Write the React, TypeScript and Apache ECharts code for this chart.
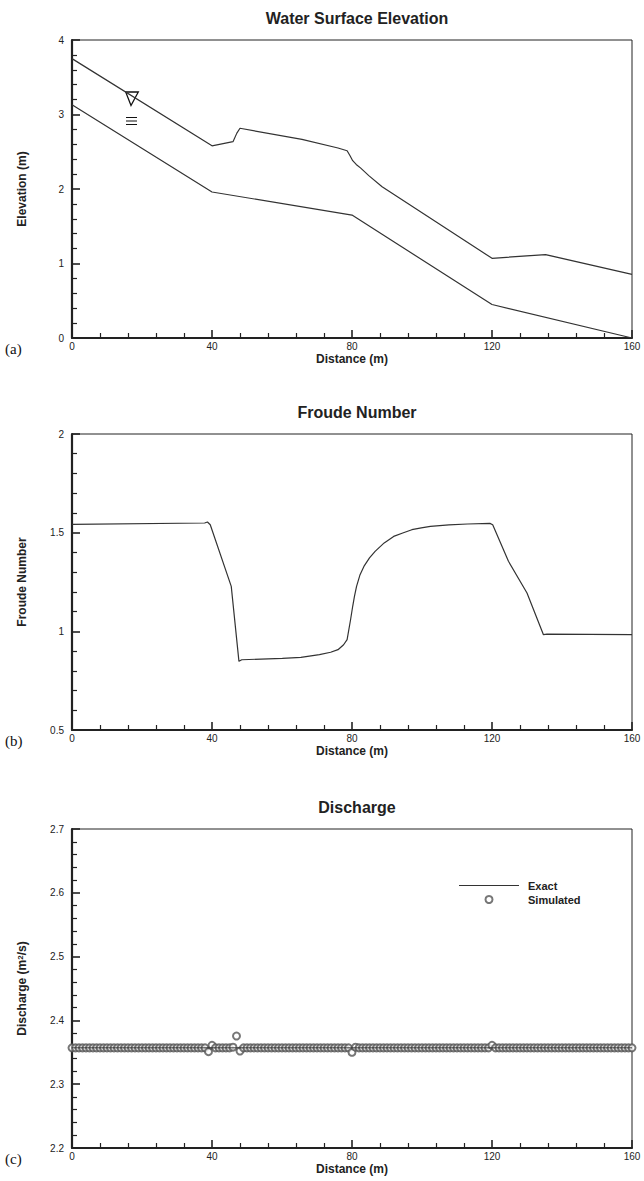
import React, { useEffect, useRef } from "react";
import * as echarts from "echarts";

const FONT = "'Liberation Sans', Arial, Helvetica, sans-serif";
const INK = "#222";

// ---- data ----
const distanceTicks = [0, 40, 80, 120, 160];

const bedElevation: [number, number][] = [
  [0, 3.13], [40, 1.96], [80, 1.65], [120, 0.45], [160, 0.0],
];

const waterSurface: [number, number][] = [
  [0, 3.75], [40, 2.58], [46, 2.635], [47.1, 2.75], [48, 2.815], [65.7, 2.667],
  [76, 2.55], [78.6, 2.514], [79.4, 2.45], [80.2, 2.38], [81.2, 2.33], [82.5, 2.28],
  [84.8, 2.18], [88.6, 2.03], [120, 1.07], [135.3, 1.12], [160, 0.855],
];

const froudeNumber: [number, number][] = [
  [0, 1.542], [37.9, 1.549], [38.7, 1.554], [39.5, 1.54], [45.5, 1.228],
  [47.7, 0.848], [48.5, 0.856], [60.1, 0.863], [65.4, 0.868], [70.7, 0.882],
  [73.9, 0.894], [76, 0.907], [77.6, 0.932], [78.6, 0.958], [79.6, 1.06],
  [80.2, 1.127], [80.7, 1.177], [81.3, 1.228], [82.3, 1.287], [83.4, 1.329],
  [85, 1.372], [86.6, 1.405], [89.2, 1.448], [91.9, 1.481], [94.5, 1.498],
  [97.1, 1.515], [99.8, 1.524], [102.4, 1.532], [107.7, 1.539], [113, 1.544],
  [119.4, 1.547], [120.2, 1.54], [124.7, 1.355], [130, 1.194], [134.7, 0.983],
  [135.7, 0.986], [160, 0.983],
];

const exactDischarge: [number, number][] = [[0, 2.357], [160, 2.357]];

// simulated discharge at every node (grid spacing below), from x = 0 to 160 m
const simulatedSpacing = 1;
const simulatedDischarge = [
  2.357, 2.357, 2.357, 2.357, 2.357, 2.357, 2.357, 2.357, 2.357, 2.357,
  2.357, 2.357, 2.357, 2.357, 2.357, 2.357, 2.357, 2.357, 2.357, 2.357,
  2.357, 2.357, 2.357, 2.357, 2.357, 2.357, 2.357, 2.357, 2.357, 2.357,
  2.357, 2.357, 2.357, 2.357, 2.357, 2.357, 2.357, 2.357, 2.357, 2.351,
  2.361, 2.357, 2.357, 2.357, 2.357, 2.357, 2.358, 2.3755, 2.352, 2.357,
  2.357, 2.357, 2.357, 2.357, 2.357, 2.357, 2.357, 2.357, 2.357, 2.357,
  2.357, 2.357, 2.357, 2.357, 2.357, 2.357, 2.357, 2.357, 2.357, 2.357,
  2.357, 2.357, 2.357, 2.357, 2.357, 2.357, 2.357, 2.357, 2.357, 2.357,
  2.35, 2.358, 2.357, 2.357, 2.357, 2.357, 2.357, 2.357, 2.357, 2.357,
  2.357, 2.357, 2.357, 2.357, 2.357, 2.357, 2.357, 2.357, 2.357, 2.357,
  2.357, 2.357, 2.357, 2.357, 2.357, 2.357, 2.357, 2.357, 2.357, 2.357,
  2.357, 2.357, 2.357, 2.357, 2.357, 2.357, 2.357, 2.357, 2.357, 2.357,
  2.361, 2.357, 2.357, 2.357, 2.357, 2.357, 2.357, 2.357, 2.357, 2.357,
  2.357, 2.357, 2.357, 2.357, 2.357, 2.357, 2.357, 2.357, 2.357, 2.357,
  2.357, 2.357, 2.357, 2.357, 2.357, 2.357, 2.357, 2.357, 2.357, 2.357,
  2.357, 2.357, 2.357, 2.357, 2.357, 2.357, 2.357, 2.357, 2.357, 2.357,
  2.357,
];

const panelTitles = ["Water Surface Elevation", "Froude Number", "Discharge"];
const panelLetters = ["(a)", "(b)", "(c)"];
const yAxisNames = ["Elevation (m)", "Froude Number", "Discharge (m{sup|2}/s)"];
const yRanges = [
  { min: 0, max: 4, interval: 1 },
  { min: 0.5, max: 2, interval: 0.5 },
  { min: 2.2, max: 2.7, interval: 0.1 },
];
const legendNames = ["Exact", "Simulated"];

// ---- layout ----
const grids = [
  { left: 72, top: 40, width: 560, height: 298 },
  { left: 72, top: 434, width: 560, height: 296 },
  { left: 72, top: 829, width: 560, height: 319 },
];

export default function App() {
  const ref = useRef<HTMLDivElement>(null);

  useEffect(() => {
    document.body.style.margin = "0";
    if (!ref.current) return;
    const chart = echarts.init(ref.current, undefined, { renderer: "svg" });

    const nameStyle = {
      fontFamily: FONT,
      fontWeight: "bold" as const,
      fontSize: 12,
      color: INK,
      rich: {
        sup: {
          fontFamily: FONT,
          fontWeight: "bold" as const,
          fontSize: 8,
          color: INK,
          verticalAlign: "top" as const,
        },
      },
    };

    const mkAxisLine = () => ({ show: true, onZero: false, lineStyle: { color: INK, width: 2.2 } });
    const mkTick = () => ({ show: true, inside: true, length: 8, lineStyle: { color: INK, width: 1.6 } });
    const mkMinor = () => ({ show: true, splitNumber: 5, length: 5, lineStyle: { color: INK, width: 1.2 } });

    const xAxes = grids.map((_, i) => ({
      type: "value",
      gridIndex: i,
      position: "bottom",
      min: distanceTicks[0],
      max: distanceTicks[distanceTicks.length - 1],
      interval: distanceTicks[1] - distanceTicks[0],
      name: "Distance (m)",
      nameLocation: "middle",
      nameGap: 15,
      nameTextStyle: nameStyle,
      axisLine: mkAxisLine(),
      axisTick: mkTick(),
      minorTick: mkMinor(),
      splitLine: { show: false },
      minorSplitLine: { show: false },
      axisLabel: { color: INK, fontSize: 10, fontFamily: FONT, margin: 3 },
    }));

    const yAxes = grids.map((_, i) => ({
      type: "value",
      gridIndex: i,
      position: "left",
      min: yRanges[i].min,
      max: yRanges[i].max,
      interval: yRanges[i].interval,
      name: yAxisNames[i],
      nameLocation: "middle",
      nameGap: 44,
      nameTextStyle: nameStyle,
      axisLine: mkAxisLine(),
      axisTick: mkTick(),
      minorTick: mkMinor(),
      splitLine: { show: false },
      minorSplitLine: { show: false },
      axisLabel: { color: INK, fontSize: 10, fontFamily: FONT, margin: 8 },
    }));

    const lineStyle = { color: "#333", width: 1.2 };

    const option: any = {
      animation: false,
      backgroundColor: "#fff",
      title: panelTitles.map((t, i) => ({
        text: t,
        left: grids[i].left + grids[i].width / 2,
        textAlign: "center",
        top: grids[i].top - 35,
        textStyle: { fontFamily: FONT, fontWeight: "bold", fontSize: 16, color: INK },
      })),
      grid: grids.map((g) => ({
        ...g,
        show: true,
        borderColor: INK,
        borderWidth: 1,
        backgroundColor: "transparent",
      })),
      xAxis: xAxes,
      yAxis: yAxes,
      legend: {
        orient: "vertical",
        left: 459,
        top: 880,
        padding: 0,
        itemWidth: 60,
        itemHeight: 7,
        itemGap: 3,
        data: [
          { name: legendNames[0], icon: "path://M0,0H60V1H0Z" },
          { name: legendNames[1], icon: "emptyCircle" },
        ],
        textStyle: { fontFamily: FONT, fontWeight: "bold", fontSize: 11, color: INK, padding: [0, 0, 0, 4] },
        selectedMode: false,
      },
      series: [
        { type: "line", xAxisIndex: 0, yAxisIndex: 0, data: waterSurface, symbol: "none", lineStyle },
        { type: "line", xAxisIndex: 0, yAxisIndex: 0, data: bedElevation, symbol: "none", lineStyle },
        { type: "line", xAxisIndex: 1, yAxisIndex: 1, data: froudeNumber, symbol: "none", lineStyle },
        {
          name: legendNames[0],
          type: "line",
          xAxisIndex: 2,
          yAxisIndex: 2,
          data: exactDischarge,
          symbol: "none",
          lineStyle: { color: "#333", width: 1 },
          itemStyle: { color: "#333" },
        },
        {
          name: legendNames[1],
          type: "scatter",
          xAxisIndex: 2,
          yAxisIndex: 2,
          data: simulatedDischarge.map((v, k) => [k * simulatedSpacing, v]),
          symbol: "emptyCircle",
          symbolSize: 7,
          itemStyle: { color: "#555", borderColor: "#555", borderWidth: 1 },
        },
      ],
      graphic: [
        ...panelLetters.map((t, i) => ({
          type: "text",
          left: 5,
          top: grids[i].top + grids[i].height + 3,
          style: { text: t, font: "15px 'Liberation Serif', 'Times New Roman', serif", fill: "#111" },
        })),
        {
          type: "polygon",
          shape: { points: [[125.7, 92], [138.3, 92], [131, 105.5]] },
          style: { fill: "none", stroke: "#111", lineWidth: 1.3 },
        },
        { type: "line", shape: { x1: 126, y1: 117.5, x2: 137, y2: 117.5 }, style: { stroke: "#111", lineWidth: 1 } },
        { type: "line", shape: { x1: 126, y1: 121, x2: 137, y2: 121 }, style: { stroke: "#111", lineWidth: 1 } },
        { type: "line", shape: { x1: 126, y1: 124.5, x2: 137, y2: 124.5 }, style: { stroke: "#111", lineWidth: 1 } },
      ],
    };

    chart.setOption(option);
    return () => chart.dispose();
  }, []);

  return <div ref={ref} style={{ width: 644, height: 1181 }} />;
}
